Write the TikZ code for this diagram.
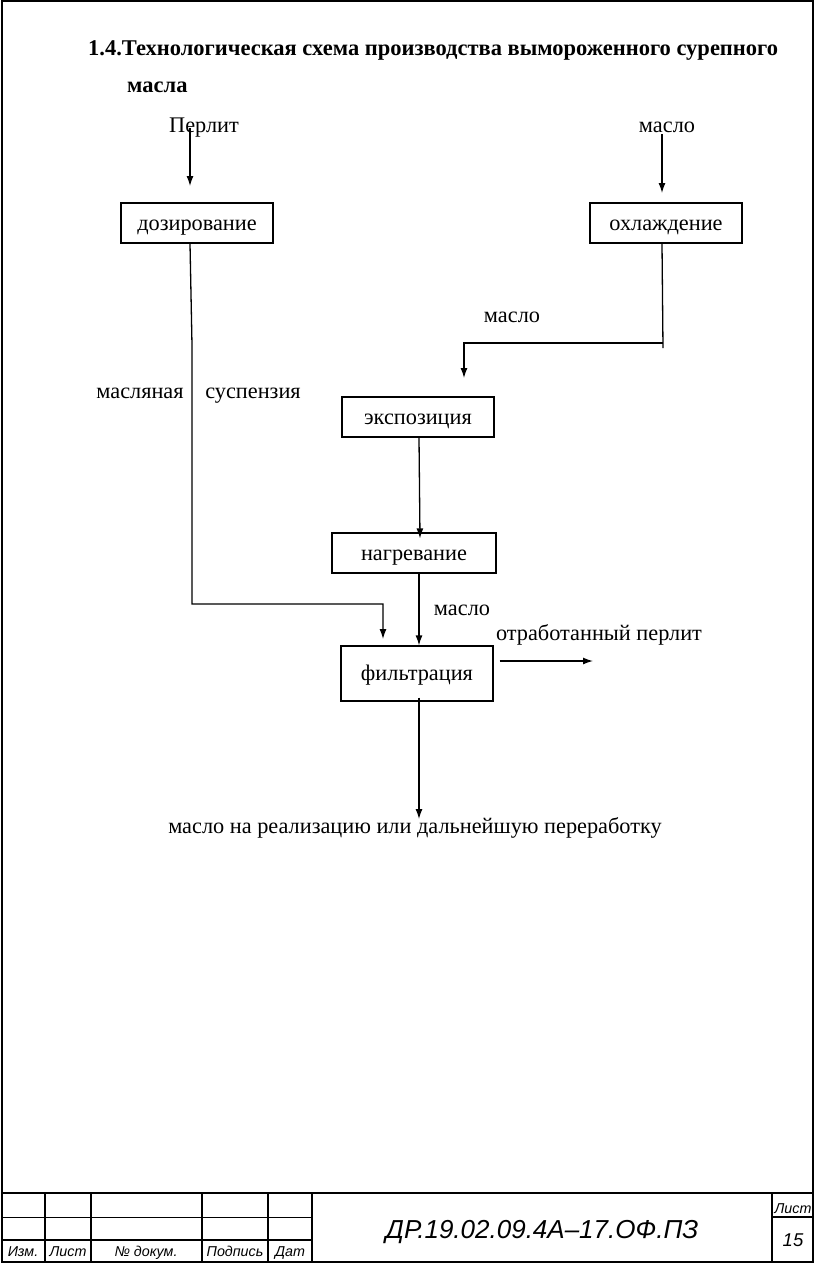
\documentclass[tikz,border=0pt]{standalone}
\usepackage{fontspec}
\setmainfont{Liberation Serif}
\newfontfamily\stampfont{Liberation Sans}
\usetikzlibrary{arrows.meta}

\begin{document}
\begin{tikzpicture}[x=1pt, y=-1pt, >={Latex[length=10pt,width=7pt]},
    box/.style={draw, line width=1.2pt, minimum width=152pt, minimum height=40pt, inner sep=0pt, text height=14pt, text depth=0pt, font=\fontsize{22.3}{26}\selectfont},
    lbl/.style={inner sep=0pt, anchor=base, font=\fontsize{22.3}{26}\selectfont},
    stamp/.style={inner sep=0pt, anchor=base, font=\stampfont\itshape\fontsize{14.3}{16}\selectfont},
    flow/.style={line width=1.3pt}]
    \useasboundingbox (0,0) rectangle (816,1264);
    % frame and stamp
    \draw[line width=2pt] (2,1) rectangle (813,1262);
    \draw[line width=2pt] (2,1193) -- (813,1193);
    \foreach \x in {45,91,202,268,312,772}
        \draw[line width=2pt] (\x,1193) -- (\x,1262);
    \draw[line width=1pt] (2,1217) -- (312,1217);
    \draw[line width=1.6pt] (2,1240) -- (312,1240);
    \draw[line width=1.6pt] (772,1217) -- (813,1217);
    \node[stamp] (izm) at (23,1256) {Изм.};
    \node[stamp] (list) at (68,1256) {Лист};
    \node[stamp] (dokum) at (146,1256) {№ докум.};
    \node[stamp] (podp) at (235,1256) {Подпись};
    \node[stamp] (dat) at (290,1256) {Дат};
    \node[stamp] (listR) at (793,1213) {Лист};
    \node[stamp, font=\stampfont\itshape\fontsize{18.5}{20}\selectfont] (page) at (793,1246) {15};
    \node[stamp, font=\stampfont\itshape\fontsize{26}{30}\selectfont] (code) at (542,1238) {ДР.19.02.09.4А–17.ОФ.ПЗ};
    % title
    \node[lbl, anchor=base west, font=\bfseries\fontsize{22.5}{26}\selectfont] (title) at (88,55) {1.4.Технологическая схема производства вымороженного сурепного};
    \node[lbl, anchor=base west, font=\bfseries\fontsize{22.5}{26}\selectfont] (title2) at (127,92) {масла};
    % process steps
    \node[box] (dos) at (197,223) {дозирование};
    \node[box] (ohl) at (666,223) {охлаждение};
    \node[box] (exp) at (418,417) {экспозиция};
    \node[box, minimum width=164pt] (nag) at (414,553) {нагревание};
    \node[box, minimum height=55pt] (fil) at (417,673.5) {фильтрация};
    % labels
    \node[lbl] (perlit) at (204,132) {Перлит};
    \node[lbl] (oilIn) at (667,132) {масло};
    \node[lbl] (oilMid) at (512,322) {масло};
    \node[lbl] (susp1) at (140,398) {масляная};
    \node[lbl] (susp2) at (253,398) {суспензия};
    \node[lbl] (oilFil) at (462,615) {масло};
    \node[lbl] (waste) at (599,640) {отработанный перлит};
    \node[lbl] (product) at (415,833) {масло на реализацию или дальнейшую переработку};
    % connector points
    \coordinate (pTop) at (190,128);
    \coordinate (pIn) at (190,186);
    \coordinate (oTop) at (662,134);
    \coordinate (oIn) at (662,193);
    \coordinate (bendA) at (192,345);
    \coordinate (bendB) at (192,604);
    \coordinate (bendC) at (383,604);
    \coordinate (inF) at (383,639);
    \coordinate (ohlEnd) at (663,348);
    \coordinate (bendD) at (663,343);
    \coordinate (bendE) at (464,343);
    \coordinate (inExp) at (464,378);
    \coordinate (outW) at (593,661);
    \coordinate (outS) at (419,819);
    % flows
    \draw[flow,->] (pTop) -- (pIn);
    \draw[flow,->] (oTop) -- (oIn);
    \draw[flow,->] (dos.south -| 190,0) -- (bendA) -- (bendB) -- (bendC) -- (inF);
    \draw[flow] (ohl.south -| 662,0) -- (ohlEnd);
    \draw[flow,->] (bendD) -- (bendE) -- (inExp);
    \draw[flow,->] (exp.south -| 419,0) -- ([yshift=-6pt]nag.north -| 420,0);
    \draw[flow,->] (nag.south -| 419,0) -- (fil.north -| 419,0);
    \draw[flow,->] ([xshift=6pt]fil.east |- outW) -- (outW);
    \draw[flow,->] ([yshift=4pt]fil.south -| 419,0) -- (outS);
\end{tikzpicture}
\end{document}
